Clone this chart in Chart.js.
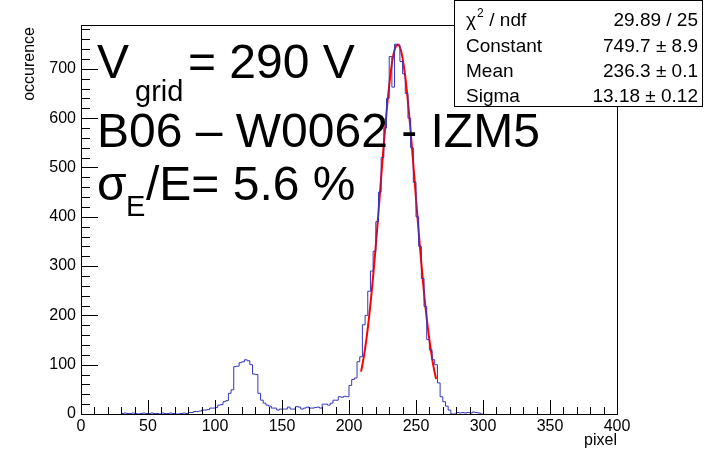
<!DOCTYPE html>
<html>
<head>
<meta charset="utf-8">
<script src="https://cdn.jsdelivr.net/npm/chart.js@4.4.1/dist/chart.umd.min.js"></script>
<style>
  html, body { margin: 0; padding: 0; background: #fff; }
</style>
</head>
<body>
<canvas id="histo" width="706" height="450"></canvas>
<script>
// histogram, bin width 2 pixel, first filled bin at 30
const binStart = 30;
const binWidth = 2;
const counts = [
  1, 2, 1, 1, 2, 1, 0, 1, 2, 1,      // 30 - 48
  1, 2, 1, 1, 0, 2, 1, 1, 2, 1,      // 50 - 68
  0, 0, 1, 2, 1,                     // 70 - 78
  3, 3, 5, 5, 6, 8, 8, 9, 12, 12,    // 80 - 98
  13, 18, 19, 25, 27, 42, 49, 96, 97, 104,   // 100 - 118
  106, 110, 108, 100, 81, 80, 42, 28, 22, 18, // 120 - 138
  16, 12, 12, 8, 10, 10, 10, 14, 10, 10,      // 140 - 158
  15, 14, 10, 12, 14, 12, 12, 13, 14, 12,     // 160 - 178
  20, 20, 18, 22, 28, 28, 35, 34, 36, 35,     // 180 - 198
  58, 70, 73, 106, 116, 181, 200, 249, 290, 330, // 200 - 218
  390, 450, 520, 580, 640, 725, 663, 750, 748, 715, // 220 - 238
  690, 650, 600, 540, 470, 400, 340, 275, 218, 151, // 240 - 258
  130, 110, 100, 63, 35, 25, 16, 8, 0, 0,     // 260 - 278
  3, 2, 3, 2, 3, 2, 4, 3, 2, 0                // 280 - 298
];

// gaussian fit curve
const fitX = [209, 211, 213, 215, 217, 219, 221, 223, 225, 227, 229, 231, 233, 235, 237,
              239, 241, 243, 245, 247, 249, 251, 253, 255, 257, 259, 261, 263, 265];
const fitY = [86, 115, 152, 197, 250, 310, 375, 445, 515, 580, 640, 690, 727, 746, 749,
              735, 704, 660, 604, 540, 472, 403, 337, 275, 219, 171, 131, 97, 71];

const xTicks = [0, 50, 100, 150, 200, 250, 300, 350, 400];
const yTicks = [0, 100, 200, 300, 400, 500, 600, 700];
const xMinorStep = 10;
const yMinorStep = 20;

const statsRows = [
  ["Constant", "749.7 \u00b1 8.9"],
  ["Mean", "236.3 \u00b1 0.1"],
  ["Sigma", "13.18 \u00b1 0.12"]
];
const chiLabel = "29.89 / 25";

const histoPoints = counts.map((c, i) => ({ x: binStart + i * binWidth, y: c }));
histoPoints.push({ x: binStart + counts.length * binWidth, y: 0 });
const fitPoints = fitX.map((x, i) => ({ x: x, y: fitY[i] }));

const FONT = "'Liberation Sans', Arial, sans-serif";

// ROOT style frame, inward ticks, titles, labels and stat box
const rootStyle = {
  id: 'rootStyle',
  afterDraw(chart) {
    const ctx = chart.ctx;
    const a = chart.chartArea;
    const xs = chart.scales.x, ys = chart.scales.y;
    ctx.save();
    ctx.strokeStyle = '#000';
    ctx.lineWidth = 1;
    ctx.strokeRect(Math.round(a.left) + 0.5, Math.round(a.top) + 0.5,
                   Math.round(a.right - a.left), Math.round(a.bottom - a.top));

    ctx.beginPath();
    for (let v = 0; v <= ys.max; v += yMinorStep) {
      const py = Math.round(ys.getPixelForValue(v)) + 0.5;
      const len = v % 100 === 0 ? 17 : 9;
      ctx.moveTo(a.left, py);
      ctx.lineTo(a.left + len, py);
    }
    for (let v = 0; v <= xs.max; v += xMinorStep) {
      const px = Math.round(xs.getPixelForValue(v)) + 0.5;
      const len = v % 50 === 0 ? 14 : 7;
      ctx.moveTo(px, a.bottom);
      ctx.lineTo(px, a.bottom - len);
    }
    ctx.stroke();

    // axis titles
    ctx.fillStyle = '#000';
    ctx.font = '16px ' + FONT;
    ctx.textAlign = 'right';
    ctx.textBaseline = 'alphabetic';
    ctx.fillText('pixel', a.right, 445);
    ctx.save();
    ctx.translate(34, a.top + 2);
    ctx.rotate(-Math.PI / 2);
    ctx.fillText('occurence', 0, 0);
    ctx.restore();

    // big annotations
    ctx.textAlign = 'left';
    ctx.font = '48px ' + FONT;
    ctx.fillText('V', 97, 78);
    ctx.fillText('= 290 V', 188, 78);
    ctx.fillText('B06 \u2013 W0062 - IZM5', 97, 147);
    ctx.fillText('\u03c3', 97, 200);
    ctx.fillText('/E= 5.6 %', 146, 200);
    ctx.font = '29px ' + FONT;
    ctx.fillText('grid', 135, 101);
    ctx.fillText('E', 126, 216);

    // stat box
    const bx = 454, by = 0, bw = 248, bh = 106;
    ctx.fillStyle = '#fff';
    ctx.fillRect(bx, by, bw, bh);
    ctx.strokeRect(bx + 0.5, by + 0.5, bw, bh);
    ctx.fillStyle = '#000';
    ctx.font = '19px ' + FONT;
    ctx.textAlign = 'left';
    ctx.fillText('\u03c7', 466, 26);
    const chiW = ctx.measureText('\u03c7').width;
    ctx.font = '12px ' + FONT;
    ctx.fillText('2', 466 + chiW + 1, 17);
    ctx.font = '19px ' + FONT;
    ctx.fillText(' / ndf', 466 + chiW + 8, 26);
    ctx.textAlign = 'right';
    ctx.fillText(chiLabel, 698, 26);
    statsRows.forEach((r, i) => {
      const yb = 52 + i * 25;
      ctx.textAlign = 'left';
      ctx.fillText(r[0], 466, yb);
      ctx.textAlign = 'right';
      ctx.fillText(r[1], 698, yb);
    });
    ctx.restore();
  }
};

new Chart(document.getElementById('histo'), {
  type: 'line',
  data: {
    datasets: [
      {
        label: 'histo',
        data: histoPoints,
        stepped: true,
        borderColor: '#3535c0',
        borderWidth: 1,
        pointRadius: 0,
        fill: false
      },
      {
        label: 'fit',
        data: fitPoints,
        borderColor: '#ff0000',
        borderWidth: 2,
        pointRadius: 0,
        tension: 0.4,
        fill: false
      }
    ]
  },
  options: {
    responsive: false,
    animation: false,
    devicePixelRatio: 1,
    layout: { padding: { top: 25, right: 89, left: 0, bottom: 0 } },
    plugins: { legend: { display: false }, tooltip: { enabled: false } },
    scales: {
      x: {
        type: 'linear',
        min: 0,
        max: 400,
        afterFit: s => { s.height = 36; },
        afterBuildTicks: s => { s.ticks = xTicks.map(v => ({ value: v })); },
        border: { display: false },
        grid: { display: false, drawTicks: false },
        ticks: { color: '#000', padding: 3, maxRotation: 0, autoSkip: false,
                 font: { family: FONT, size: 16 } }
      },
      y: {
        type: 'linear',
        min: 0,
        max: 789,
        afterFit: s => { s.width = 81; },
        afterBuildTicks: s => { s.ticks = yTicks.map(v => ({ value: v })); },
        border: { display: false },
        grid: { display: false, drawTicks: false },
        ticks: { color: '#000', padding: 5, autoSkip: false,
                 font: { family: FONT, size: 16 } }
      }
    }
  },
  plugins: [rootStyle]
});
</script>
</body>
</html>
